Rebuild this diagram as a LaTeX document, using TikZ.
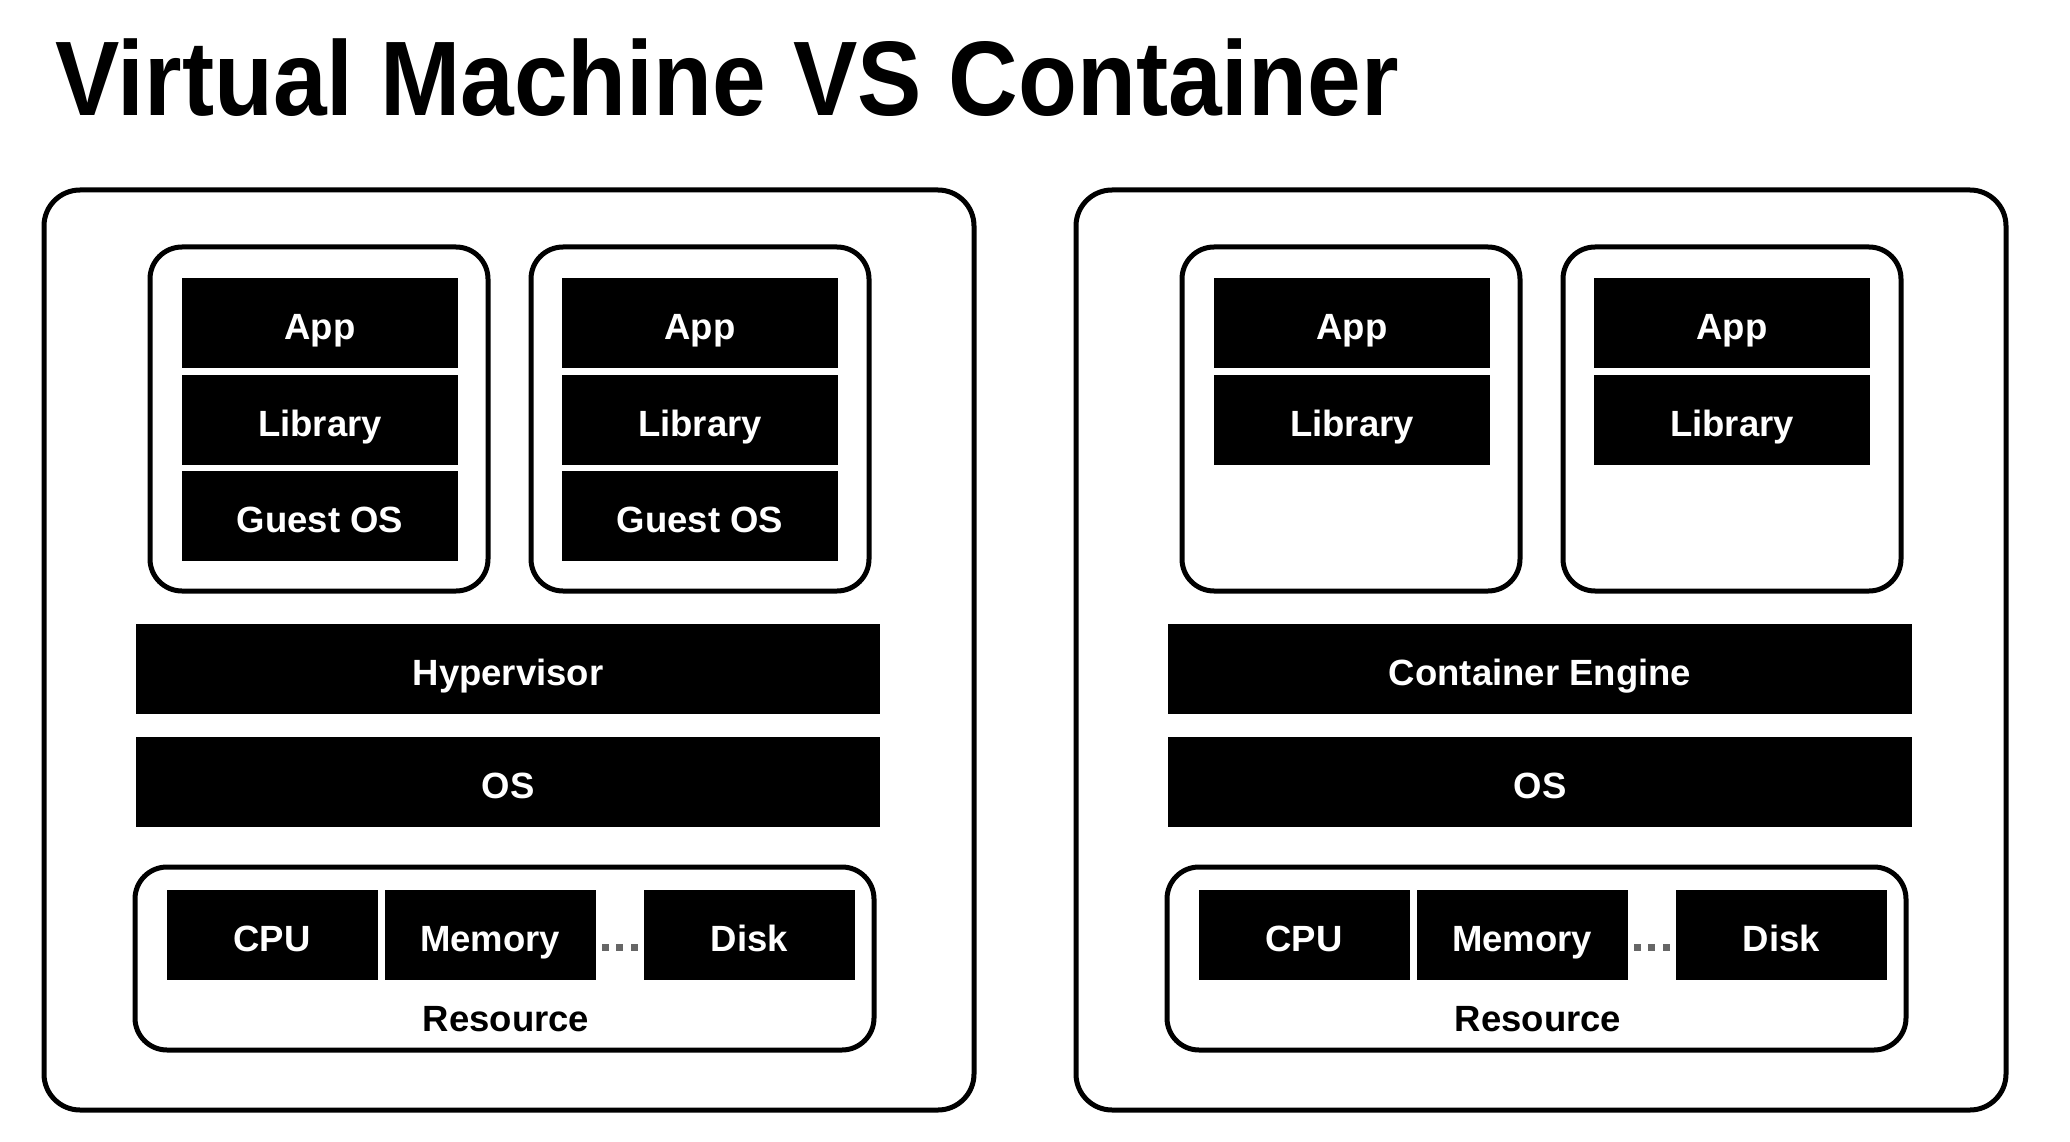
\documentclass[tikz,border=0pt]{standalone}
\usepackage{fontspec}
\setmainfont{Liberation Sans}
\newcommand\lbl{\fontsize{36.5}{42}\selectfont\bfseries}
\newcommand\ttl{\fontsize{106}{120}\selectfont\bfseries}
\begin{document}
\begin{tikzpicture}[x=1pt,y=-1pt,
  outerbox/.style={draw, line width=5pt, rounded corners=36pt, minimum width=930pt, minimum height=920pt, inner sep=0pt},
  unitbox/.style={draw, line width=5pt, rounded corners=32pt, minimum width=338pt, minimum height=344pt, inner sep=0pt},
  resbox/.style={draw, line width=5pt, rounded corners=32pt, minimum width=739pt, minimum height=183pt, inner sep=0pt},
  blk/.style={fill=black, text=white, inner sep=0pt, minimum height=90pt, font=\lbl, text height=35pt, text depth=2pt},
  layer/.style={blk, minimum width=276pt},
  bar/.style={blk, minimum width=744pt},
  res/.style={blk, minimum width=211pt},
  dotsq/.style={fill=black!60, minimum size=7pt, inner sep=0pt},
  restext/.style={inner sep=0pt, font=\lbl, text height=35pt, text depth=2pt},
]
\fill[white] (0,0) rectangle (2070,1142);
\useasboundingbox (0,0) rectangle (2070,1142);

\node[anchor=base west, inner sep=0pt] (title) at (55,116) {\scalebox{0.91}[1]{\ttl Virtual Machine VS Container}};

% ---------------- Virtual Machine ----------------
\node[outerbox] (vmouter) at (509,650) {};
\node[unitbox] (vm1) at (319,419) {};
\node[unitbox] (vm2) at (700,419) {};
\node[layer] (vm1app) at (320,323) {App};
\node[layer] (vm1lib) at (320,420) {Library};
\node[layer] (vm1os) at (320,516) {Guest OS};
\node[layer] (vm2app) at (700,323) {App};
\node[layer] (vm2lib) at (700,420) {Library};
\node[layer] (vm2os) at (700,516) {Guest OS};
\node[bar] (hyper) at (508,669) {Hypervisor};
\node[bar] (vmos) at (508,781.5) {OS};
\node[resbox] (vmres) at (504.5,958.5) {};
\node[res] (vmcpu) at (272,935) {CPU};
\node[res] (vmmem) at (490,935) {Memory};
\node[res] (vmdisk) at (749.5,935) {Disk};
\node[dotsq] (vmd1) at (605.5,947.5) {};
\node[dotsq] (vmd2) at (619.5,947.5) {};
\node[dotsq] (vmd3) at (634.5,947.5) {};
\node[restext] (vmrestext) at (506,1015) {Resource};

% ---------------- Container ----------------
\begin{scope}[xshift=1032pt]
\node[outerbox] (ctouter) at (509,650) {};
\node[unitbox] (ct1) at (319,419) {};
\node[unitbox] (ct2) at (700,419) {};
\node[layer] (ct1app) at (320,323) {App};
\node[layer] (ct1lib) at (320,420) {Library};
\node[layer] (ct2app) at (700,323) {App};
\node[layer] (ct2lib) at (700,420) {Library};
\node[bar] (engine) at (508,669) {Container Engine};
\node[bar] (ctos) at (508,781.5) {OS};
\node[resbox] (ctres) at (504.5,958.5) {};
\node[res] (ctcpu) at (272,935) {CPU};
\node[res] (ctmem) at (490,935) {Memory};
\node[res] (ctdisk) at (749.5,935) {Disk};
\node[dotsq] (ctd1) at (605.5,947.5) {};
\node[dotsq] (ctd2) at (619.5,947.5) {};
\node[dotsq] (ctd3) at (634.5,947.5) {};
\node[restext] (ctrestext) at (506,1015) {Resource};
\end{scope}
\end{tikzpicture}
\end{document}
